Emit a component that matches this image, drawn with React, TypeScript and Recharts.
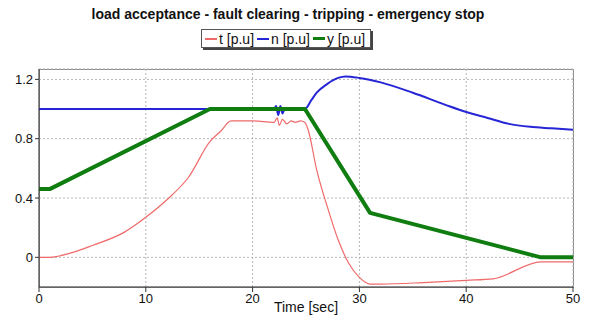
import { CartesianGrid, Line, LineChart, XAxis, YAxis } from 'recharts'

const title = 'load acceptance - fault clearing - tripping - emergency stop'
const xTicks = [0, 10, 20, 30, 40, 50]
const yTicks = [0, 0.4, 0.8, 1.2]

// t [p.u]
const tTime = [0, 1, 3, 5, 8, 10, 12, 14, 16, 17, 18, 20, 22, 22.3, 22.5, 22.8, 23.2, 23.6, 24, 24.5, 24.9, 25.2, 26, 27, 28, 29, 30, 31, 32, 36, 40, 42.5, 47, 50]
const tValue = [0, 0.0, 0.03, 0.08, 0.17, 0.27, 0.39, 0.54, 0.78, 0.85, 0.92, 0.92, 0.91, 0.94, 0.89, 0.93, 0.9, 0.92, 0.91, 0.92, 0.91, 0.86, 0.59, 0.34, 0.12, -0.04, -0.135, -0.18, -0.18, -0.17, -0.155, -0.145, -0.03, -0.03]

// n [p.u]
const nTime = [0, 22, 22.2, 22.4, 22.6, 22.8, 23, 24.9, 25.5, 26, 27, 28, 28.7, 30, 32, 35, 38, 40, 42, 44, 46, 48, 50]
const nValue = [1, 1, 1.02, 0.96, 1.02, 0.97, 1, 1, 1.06, 1.11, 1.17, 1.21, 1.22, 1.21, 1.18, 1.11, 1.03, 0.98, 0.94, 0.9, 0.88, 0.87, 0.86]

// y [p.u]
const yTime = [0, 1, 16, 24.9, 31, 47, 50]
const yValue = [0.46, 0.46, 1, 1, 0.3, 0, 0]

const build = (xs: number[], ys: number[]) => xs.map((t, i) => ({ t, v: ys[i] }))

const series = [
  { name: 't [p.u]', color: '#f06a6a', width: 1.2, curve: 'monotone', data: build(tTime, tValue) },
  { name: 'n [p.u]', color: '#2626d6', width: 2, curve: 'monotone', data: build(nTime, nValue) },
  { name: 'y [p.u]', color: '#0f7d0f', width: 4, curve: 'linear', data: build(yTime, yValue) },
] as const

const font = '"Liberation Sans", Arial, sans-serif'

export default function App() {
  return (
    <div style={{ position: 'absolute', left: 0, top: 0, width: 592, height: 325, background: '#fff', fontFamily: font }}>
      <div style={{ position: 'absolute', top: 6, left: 0, width: 576, textAlign: 'center', fontSize: 14, fontWeight: 'bold', color: '#111' }}>
        {title}
      </div>
      <div
        style={{
          position: 'absolute', top: 29, left: 201, height: 17, display: 'flex', alignItems: 'center',
          border: '1px solid #555', boxShadow: '2px 2px 0 #444', background: '#fff', fontSize: 14, paddingRight: 5, color: '#111',
        }}
      >
        {series.map((s) => (
          <span key={s.name} style={{ display: 'flex', alignItems: 'center', marginLeft: 3 }}>
            <span style={{ display: 'inline-block', width: 12, height: s.width > 2 ? 3 : 2, background: s.color, marginRight: 2 }} />
            {s.name}
          </span>
        ))}
      </div>
      {/* plot frame */}
      <div style={{ position: 'absolute', left: 39, top: 69, width: 533, height: 217, border: '1px solid #8a8a8a', pointerEvents: 'none' }} />
      <LineChart width={592} height={325} margin={{ top: 69, right: 19, bottom: 13, left: 4 }} style={{ position: 'absolute', left: 0, top: 0 }}>
        <CartesianGrid stroke="#b5b5b5" strokeDasharray="2 2" />
        <XAxis
          dataKey="t" type="number" domain={[0, 50]} ticks={xTicks} height={25} allowDuplicatedCategory={false}
          stroke="#333" tickSize={5} tick={{ fill: '#111', fontSize: 13, fontFamily: font }}
          label={{ value: 'Time  [sec]', position: 'insideBottom', offset: 0, fill: '#111', fontSize: 14, fontFamily: font }}
        />
        <YAxis
          type="number" domain={[-0.2, 1.27]} ticks={yTicks} width={35} allowDataOverflow
          stroke="#333" tickSize={4} tickFormatter={(v: number) => String(v)} tick={{ fill: '#111', fontSize: 13, fontFamily: font }}
        />
        {series.map((s) => (
          <Line
            key={s.name} data={s.data} dataKey="v" type={s.curve} stroke={s.color}
            strokeWidth={s.width} dot={false} isAnimationActive={false} strokeLinejoin="round"
          />
        ))}
      </LineChart>
    </div>
  )
}
